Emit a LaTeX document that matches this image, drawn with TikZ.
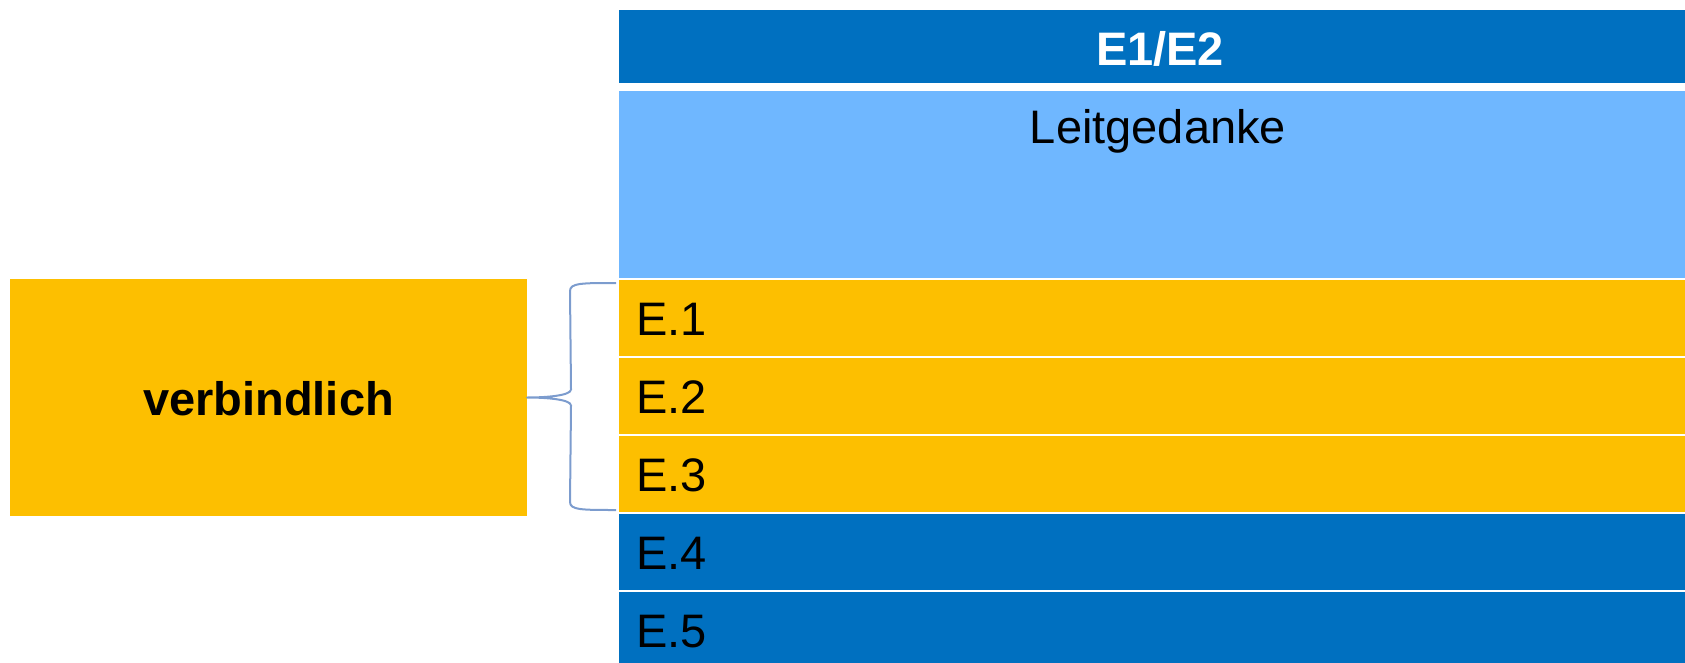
\documentclass[tikz,border=0pt]{standalone}
\usepackage{fontspec}
\setmainfont{Liberation Sans}
\definecolor{darkblue}{RGB}{0,112,192}
\definecolor{lightblue}{RGB}{111,183,255}
\definecolor{gold}{RGB}{253,191,0}
\definecolor{bracecol}{RGB}{124,156,206}
\begin{document}
\begin{tikzpicture}[x=1pt,y=-1pt,
  box/.style={rectangle,inner sep=0pt,outer sep=0pt,anchor=north west,draw=none},
  rowbox/.style={box,minimum width=1082pt,minimum height=75.5pt,text width=1048pt,inner xsep=17pt,align=left,
    text height=36pt,text depth=0pt,font=\fontsize{47}{56}\selectfont},
  bigtext/.style={font=\fontsize{47}{56}\selectfont},
  bracestyle/.style={draw=bracecol,line width=2pt,line join=round}]
\useasboundingbox (0,0) rectangle (1685,663);
\clip (0,0) rectangle (1685,663);
% header
\node[box,fill=darkblue,minimum width=1082pt,minimum height=73pt] (head) at (619,10) {};
\node[bigtext,text=white,font=\bfseries\fontsize{47}{56}\selectfont,anchor=base] (headtxt) at (1160,66) {E1/E2};
% Leitgedanke
\node[box,fill=lightblue,minimum width=1082pt,minimum height=187pt] (leit) at (619,91) {};
\node[bigtext,anchor=base] (leittxt) at (1158,144) {Leitgedanke};
% rows
\node[rowbox,fill=gold] (e1) at (619,280) {E.1};
\node[rowbox,fill=gold] (e2) at (619,358) {E.2};
\node[rowbox,fill=gold] (e3) at (619,436) {E.3};
\node[rowbox,fill=darkblue] (e4) at (619,514) {E.4};
\node[rowbox,fill=darkblue] (e5) at (619,592) {E.5};
% verbindlich
\node[box,fill=gold,minimum width=517pt,minimum height=237pt,text height=35pt,text depth=0pt,
  font=\bfseries\fontsize{47}{56}\selectfont] (verb) at (10,279) {verbindlich};
% brace
\coordinate (btop) at ([xshift=-3pt,yshift=-3pt]e1.north west);
\coordinate (bbot) at ([xshift=-3pt,yshift=1.5pt]e3.south west);
\coordinate (btip) at (verb.east);
\draw[bracestyle] (btop) .. controls +(-34,0) and +(0,-8) .. ([xshift=-46pt,yshift=-8pt]btop)
  -- ([xshift=44pt,yshift=8pt]btip)
  .. controls +(0,6) and +(20,0) .. (btip)
  .. controls +(20,0) and +(0,-6) .. ([xshift=44pt,yshift=-8pt]btip)
  -- ([xshift=-46pt,yshift=8pt]bbot)
  .. controls +(0,8) and +(-34,0) .. (bbot);
\end{tikzpicture}
\end{document}
